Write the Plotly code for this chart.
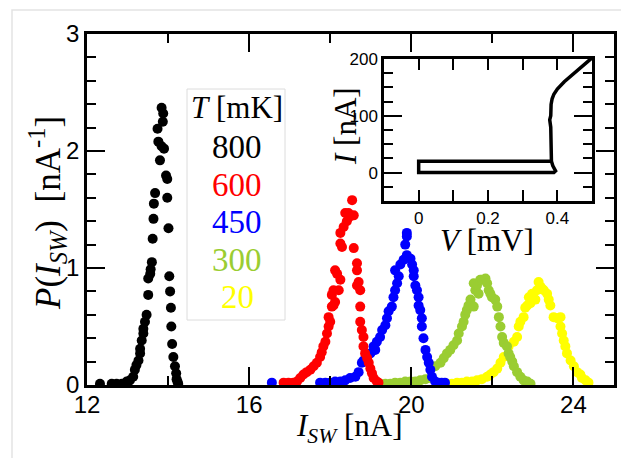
import plotly.graph_objects as go

# ---------------- data ----------------
temps = ["800", "600", "450", "300", "20"]
colors = ["#000000", "#ff0000", "#0000ff", "#9acd32", "#ffff00"]

isw_800 = [12.32, 12.61, 12.73, 12.86, 12.98, 13.06, 13.14, 13.18, 13.22, 13.27, 13.31, 13.31,
           13.35, 13.39, 13.39, 13.43, 13.47, 13.51, 13.51, 13.56, 13.57, 13.60, 13.62, 13.64,
           13.65, 13.68, 13.74, 13.76, 13.80, 13.84, 13.87, 13.88, 13.84, 13.90, 13.95, 13.98,
           13.98, 14.01, 14.03, 14.05, 14.07, 14.08, 14.10, 14.13, 14.17, 14.20, 14.21, 14.23, 14.25]
p_800 = [0.01, 0.01, 0.01, 0.01, 0.03, 0.04, 0.07, 0.13, 0.17, 0.21, 0.27, 0.31,
         0.38, 0.44, 0.48, 0.54, 0.60, 0.77, 0.91, 0.95, 0.99, 1.05, 1.25, 1.42,
         1.55, 1.64, 2.19, 2.08, 1.92, 2.04, 2.25, 2.32, 2.37, 2.02, 1.79, 1.76,
         1.60, 1.34, 0.93, 0.80, 0.66, 0.50, 0.35, 0.24, 0.16, 0.10, 0.05, 0.03, 0.01]

isw_600 = [16.85, 16.97, 17.09, 17.18, 17.26, 17.34, 17.42, 17.51, 17.59, 17.67, 17.75, 17.79,
           17.83, 17.88, 17.92, 17.96, 18.00, 17.96, 18.04, 18.08, 18.12, 18.04, 18.08, 18.21,
           18.25, 18.12, 18.17, 18.29, 18.25, 18.25, 18.33, 18.41, 18.37, 18.45, 18.49, 18.54,
           18.58, 18.58, 18.66, 18.66, 18.70, 18.66, 18.74, 18.74, 18.74, 18.78, 18.82, 18.82,
           18.86, 18.91, 18.95, 18.99, 19.03, 19.07, 19.15, 19.19]
p_600 = [0.02, 0.02, 0.02, 0.03, 0.06, 0.09, 0.11, 0.13, 0.16, 0.19, 0.24, 0.28,
         0.33, 0.37, 0.44, 0.50, 0.54, 0.58, 0.67, 0.68, 0.71, 0.77, 0.81, 0.81,
         0.90, 0.98, 0.95, 1.18, 1.21, 1.30, 1.35, 1.40, 1.47, 1.47, 1.44, 1.58,
         1.45, 1.17, 1.04, 0.98, 0.88, 0.85, 0.81, 0.67, 0.54, 0.47, 0.41, 0.33,
         0.27, 0.23, 0.19, 0.14, 0.10, 0.06, 0.03, 0.02]

isw_450 = [16.56, 17.75, 17.88, 18.00, 18.12, 18.25, 18.37, 18.49, 18.62, 18.70, 18.78, 18.82,
           18.91, 18.99, 19.07, 19.11, 19.15, 19.23, 19.28, 19.36, 19.40, 19.44, 19.52, 19.56,
           19.60, 19.65, 19.69, 19.60, 19.73, 19.81, 19.89, 19.85, 19.89, 19.89, 19.98, 20.02,
           20.06, 20.06, 20.10, 20.14, 20.18, 20.18, 20.22, 20.26, 20.26, 20.30, 20.35, 20.39,
           20.43, 20.47, 20.51, 20.59, 20.67, 20.75, 20.83]
p_450 = [0.02, 0.02, 0.02, 0.02, 0.03, 0.03, 0.04, 0.06, 0.07, 0.11, 0.19, 0.21,
         0.24, 0.27, 0.33, 0.30, 0.37, 0.41, 0.47, 0.51, 0.57, 0.63, 0.67, 0.75,
         0.81, 0.87, 0.93, 0.98, 1.03, 1.07, 1.11, 1.20, 1.27, 1.30, 1.08, 1.03,
         0.98, 0.93, 0.85, 0.81, 0.75, 0.68, 0.64, 0.57, 0.50, 0.40, 0.30, 0.24,
         0.19, 0.13, 0.07, 0.03, 0.02, 0.02, 0.02]

isw_300 = [19.23, 19.36, 19.48, 19.60, 19.73, 19.85, 19.98, 20.10, 20.22, 20.35, 20.47, 20.59,
           20.72, 20.80, 20.88, 20.96, 21.04, 21.13, 21.17, 21.25, 21.29, 21.33, 21.37, 21.41,
           21.46, 21.54, 21.58, 21.62, 21.66, 21.54, 21.70, 21.74, 21.83, 21.87, 21.91, 21.95,
           21.99, 22.07, 22.12, 22.16, 22.20, 22.24, 22.28, 22.36, 22.40, 22.44, 22.49, 22.53,
           22.61, 22.69, 22.77, 22.86, 22.94]
p_300 = [0.01, 0.01, 0.01, 0.02, 0.02, 0.03, 0.03, 0.03, 0.04, 0.05, 0.06, 0.16,
         0.19, 0.23, 0.27, 0.30, 0.34, 0.38, 0.44, 0.50, 0.54, 0.60, 0.64, 0.68,
         0.73, 0.67, 0.81, 0.85, 0.78, 0.87, 0.90, 0.90, 0.91, 0.87, 0.81, 0.78,
         0.75, 0.73, 0.67, 0.58, 0.50, 0.41, 0.36, 0.33, 0.27, 0.24, 0.20, 0.16,
         0.11, 0.07, 0.04, 0.03, 0.01]

isw_20 = [20.88, 21.00, 21.13, 21.25, 21.37, 21.50, 21.62, 21.74, 21.87, 21.95, 22.03, 22.12,
          22.20, 22.28, 22.40, 22.53, 22.61, 22.65, 22.69, 22.77, 22.81, 22.86, 22.94, 22.90,
          22.98, 23.06, 23.10, 23.19, 23.14, 23.23, 23.27, 23.35, 23.39, 23.43, 23.51, 23.60,
          23.68, 23.68, 23.72, 23.76, 23.80, 23.84, 23.93, 24.01, 24.09, 24.17, 24.21, 24.30, 24.37]
p_20 = [0.01, 0.01, 0.02, 0.02, 0.03, 0.03, 0.04, 0.05, 0.07, 0.09, 0.11, 0.14,
        0.19, 0.24, 0.33, 0.37, 0.41, 0.50, 0.54, 0.58, 0.66, 0.68, 0.70, 0.75,
        0.78, 0.73, 0.81, 0.84, 0.88, 0.82, 0.81, 0.78, 0.73, 0.68, 0.58, 0.57,
        0.58, 0.50, 0.44, 0.38, 0.33, 0.27, 0.21, 0.16, 0.11, 0.09, 0.06, 0.04, 0.02]

# inset I-V curve (V in mV, I in nA)
iv_v = [0.380, 0.0, 0.0, 0.390, 0.395, 0.387, 0.383, 0.383, 0.381, 0.378, 0.381, 0.382,
        0.385, 0.390, 0.400, 0.420, 0.450, 0.480, 0.500]
iv_i = [20, 20, 0, 0, 3, 12, 20, 50, 80, 93, 100, 120,
        130, 138, 147, 160, 176, 191, 202]

x_ticks = [12, 16, 20, 24]
y_ticks = [0, 1, 2, 3]

series_x = [isw_800, isw_600, isw_450, isw_300, isw_20]
series_y = [p_800, p_600, p_450, p_300, p_20]

# ---------------- figure ----------------
fig = go.Figure()

# draw from 20 mK up to 800 mK so that hotter curves lie on top
for i in reversed(range(len(temps))):
    fig.add_trace(go.Scatter(
        x=series_x[i], y=series_y[i], mode="markers",
        marker=dict(color=colors[i], size=10, line=dict(width=0)),
        name=temps[i] + " mK", showlegend=False, xaxis="x", yaxis="y"))

fig.add_trace(go.Scatter(
    x=iv_v, y=iv_i, mode="lines", line=dict(color="black", width=3.5),
    showlegend=False, xaxis="x2", yaxis="y2"))

# the page body adds an 8 px offset; work in window pixels and compensate
OFF = 8
W, H = 629 - OFF, 458 - OFF
L, R, T, B = 87 - OFF, 614 - OFF, 34 - OFF, 385 - OFF


def px(xp):
    return (xp - OFF - L) / (R - L)


def py(yp):
    return (B - (yp - OFF)) / (B - T)


serif = "Liberation Serif"
sans = "Liberation Sans"

axis_common = dict(showline=True, linecolor="black", linewidth=2.5, mirror="allticks",
                   ticks="inside", tickcolor="black", tickwidth=2, showgrid=False,
                   zeroline=False)

fig.update_layout(
    width=W, height=H,
    margin=dict(l=L, r=W - R, t=T, b=H - B, autoexpand=False),
    paper_bgcolor="white", plot_bgcolor="white",
    xaxis=dict(range=[12, 25], tickvals=x_ticks, ticklen=18, ticklabelstandoff=-4,
               tickfont=dict(family=sans, size=24, color="black"),
               minor=dict(tickmode="linear", tick0=12, dtick=2, ticklen=9, tickwidth=2,
                          ticks="inside", tickcolor="black"),
               **axis_common),
    yaxis=dict(range=[0, 3], tickvals=y_ticks, ticklen=18,
               tickfont=dict(family=sans, size=24, color="black"),
               minor=dict(tickmode="linear", tick0=0, dtick=0.2, ticklen=9, tickwidth=2,
                          ticks="inside", tickcolor="black"),
               **axis_common),
    xaxis2=dict(domain=[px(384), px(592)], anchor="y2", range=[-0.1, 0.5],
                tickvals=[0, 0.2, 0.4], ticktext=["0", "0.2", "0.4"], ticklen=11,
                tickfont=dict(family=sans, size=17, color="black"),
                minor=dict(tickmode="linear", tick0=0, dtick=0.1, ticklen=11, tickwidth=2,
                           ticks="inside", tickcolor="black"),
                **axis_common),
    yaxis2=dict(domain=[py(201), py(59)], anchor="x2", range=[-50, 200],
                tickvals=[0, 100, 200], ticklen=18,
                tickfont=dict(family=sans, size=17, color="black"),
                minor=dict(tickmode="linear", tick0=0, dtick=25, ticklen=9, tickwidth=2,
                           ticks="inside", tickcolor="black"),
                **axis_common),
)

# figure frame (light grey)
fig.add_shape(type="rect", xref="paper", yref="paper",
              x0=px(12), x1=px(660), y0=py(490), y1=py(10),
              line=dict(color="#e3e3e3", width=1.5), layer="below")

# temperature legend box
fig.add_shape(type="rect", xref="paper", yref="paper",
              x0=px(187), x1=px(285), y0=py(320), y1=py(89),
              line=dict(color="#dcdcdc", width=1), fillcolor="white", layer="below")

fig.add_annotation(xref="paper", yref="paper", x=px(237), y=py(108),
                   text="<i>T</i> [mK]", showarrow=False,
                   font=dict(family=serif, size=31, color="black"),
                   xanchor="center", yanchor="middle")
leg_y = [147, 185, 222, 260, 297]
for i in range(len(temps)):
    fig.add_annotation(xref="paper", yref="paper", x=px(237), y=py(leg_y[i]),
                       text=temps[i], showarrow=False,
                       font=dict(family=serif, size=33, color=colors[i]),
                       xanchor="center", yanchor="middle")

# main axis titles
fig.add_annotation(xref="paper", yref="paper", x=px(349), y=py(428),
                   text="<i>I<sub>SW</sub></i> [nA]", showarrow=False,
                   font=dict(family=serif, size=31, color="black"),
                   xanchor="center", yanchor="middle")
fig.add_annotation(xref="paper", yref="paper", x=px(47), y=py(213),
                   text="<i>P</i>(<i>I<sub>SW</sub></i>)  [nA<sup>-1</sup>]",
                   showarrow=False, textangle=-90,
                   font=dict(family=serif, size=35, color="black"),
                   xanchor="center", yanchor="middle")

# inset axis titles
fig.add_annotation(xref="paper", yref="paper", x=px(345), y=py(126),
                   text="<i>I</i> [nA]", showarrow=False, textangle=-90,
                   font=dict(family=serif, size=31, color="black"),
                   xanchor="center", yanchor="middle")
fig.add_annotation(xref="paper", yref="paper", x=px(487), y=py(240),
                   text="<i>V</i> [mV]", showarrow=False,
                   font=dict(family=serif, size=31, color="black"),
                   xanchor="center", yanchor="middle")

fig.write_html("out.html")
